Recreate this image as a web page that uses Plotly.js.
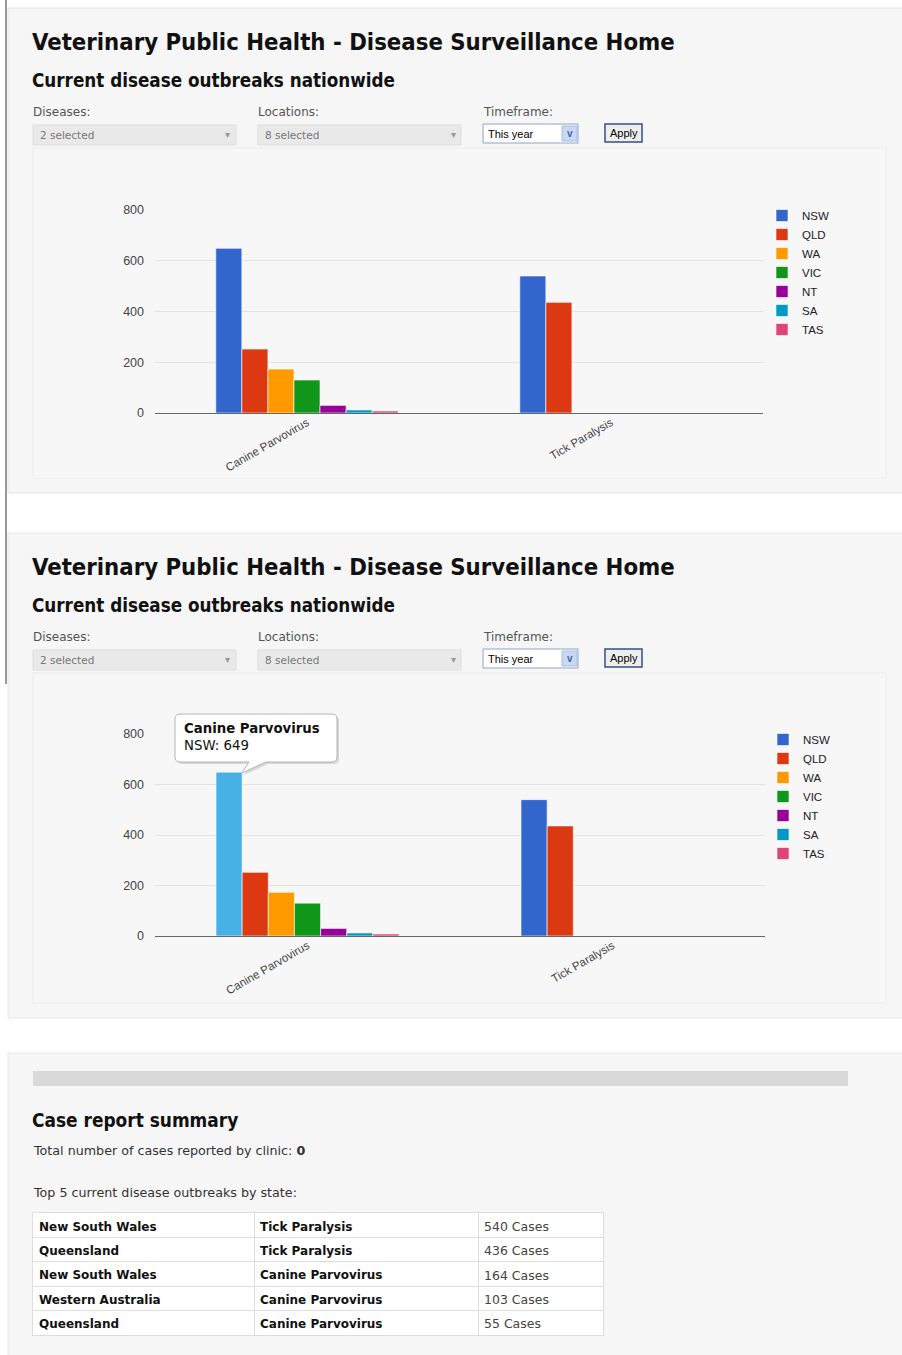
<!DOCTYPE html>
<html><head><meta charset="utf-8">
<script src="https://cdn.plot.ly/plotly-3.0.1.min.js"></script>
<style>html,body{margin:0;padding:0;background:#fff;overflow:hidden;} #chart{width:902px;height:1355px;}</style>
</head><body><div id="chart"></div>
<script>
// ---------- data ----------
const diseases = ['Canine Parvovirus', 'Tick Paralysis'];
const states = ['NSW', 'QLD', 'WA', 'VIC', 'NT', 'SA', 'TAS'];
const NSW = [649, 540];
const QLD = [252, 436];
const WA  = [173, null];
const VIC = [130, null];
const NT  = [30, null];
const SA  = [12, null];
const TAS = [8, null];
const seriesValues = [NSW, QLD, WA, VIC, NT, SA, TAS];
const seriesColors = ['#3366cc', '#dc3912', '#ff9900', '#109618', '#990099', '#0099c6', '#dd4477'];
const hoverColor = '#47b0e4';
const yTicks = [0, 200, 400, 600, 800];
const tableStates = ['New South Wales', 'Queensland', 'New South Wales', 'Western Australia', 'Queensland'];
const tableDiseases = ['Tick Paralysis', 'Tick Paralysis', 'Canine Parvovirus', 'Canine Parvovirus', 'Canine Parvovirus'];
const tableCases = [540, 436, 164, 103, 55];
const clinicTotal = 0;
const pageTitle = 'Veterinary Public Health - Disease Surveillance Home';
const subTitle = 'Current disease outbreaks nationwide';

// ---------- helpers ----------
const W = 902, H = 1355;
const X = v => v / W;
const Y = v => 1 - v / H;
const HEAD = '"DejaVu Sans Condensed", "DejaVu Sans", sans-serif';
const VERD = '"DejaVu Sans", Verdana, sans-serif';
const ARIAL = '"Liberation Sans", Arial, sans-serif';

const shapes = [];
const annotations = [];
function rect(x0, y0, x1, y1, fill, line, lw) {
  shapes.push({type: 'rect', xref: 'paper', yref: 'paper', x0: X(x0), x1: X(x1), y0: Y(y1), y1: Y(y0),
    fillcolor: fill, line: {color: line || 'rgba(0,0,0,0)', width: lw === undefined ? 1 : lw}, layer: 'below'});
}
function vline(x, y0, y1, color) {
  shapes.push({type: 'line', xref: 'paper', yref: 'paper', x0: X(x), x1: X(x), y0: Y(y0), y1: Y(y1),
    line: {color: color, width: 1}, layer: 'below'});
}
function txt(text, x, y, size, family, color, opts) {
  annotations.push(Object.assign({text: text, xref: 'paper', yref: 'paper', x: X(x), y: Y(y),
    xanchor: 'left', yanchor: 'middle', showarrow: false, borderpad: 0,
    font: {size: size, family: family, color: color}}, opts || {}));
}
function pathStr(pts) {
  return pts.map(p => {
    if (p[0] === 'Q') return 'Q' + X(p[1]) + ',' + Y(p[2]) + ' ' + X(p[3]) + ',' + Y(p[4]);
    if (p[0] === 'Z') return 'Z';
    return p[0] + X(p[1]) + ',' + Y(p[2]);
  }).join(' ');
}

// page left artifact line
vline(6, 0, 684, '#333');

// ---------- panels 1 & 2 ----------
function panel(dy) {
  rect(8, 8 + dy, 905, 493 + dy, '#f6f6f6', '#e6e6e6');
  txt('<b>' + pageTitle + '</b>', 31, 42 + dy, 23.7, HEAD, '#111');
  txt('<b>' + subTitle + '</b>', 31, 81 + dy, 18.7, HEAD, '#111');
  txt('Diseases:', 32, 112 + dy, 12, VERD, '#555');
  txt('Locations:', 257, 112 + dy, 12, VERD, '#555');
  txt('Timeframe:', 482, 112 + dy, 12, VERD, '#555');
  rect(33, 125 + dy, 236, 145 + dy, '#e9e9e9', '#dddddd');
  rect(258, 125 + dy, 461, 145 + dy, '#e9e9e9', '#dddddd');
  txt('2 selected', 39, 135 + dy, 10.5, VERD, '#777');
  txt('8 selected', 264, 135 + dy, 10.5, VERD, '#777');
  txt('▾', 228, 134 + dy, 10, VERD, '#999', {xanchor: 'center'});
  txt('▾', 453, 134 + dy, 10, VERD, '#999', {xanchor: 'center'});
  rect(483, 124 + dy, 578, 143 + dy, '#ffffff', '#8ea6c8');
  rect(562, 126 + dy, 577, 141 + dy, '#c8d7f2', '#a9bde3');
  txt('This year', 487, 134 + dy, 11, ARIAL, '#000');
  txt('<b>v</b>', 569.5, 133 + dy, 10, ARIAL, '#4a68a8', {xanchor: 'center'});
  rect(605, 124 + dy, 642, 142 + dy, '#eeeeee', '#34507e', 1.5);
  txt('Apply', 623.5, 133 + dy, 11, ARIAL, '#000', {xanchor: 'center'});
  rect(33, 148 + dy, 886, 478 + dy, '#f7f7f7', '#ececec');
}
panel(0);
panel(525);

// ---------- panel 3 ----------
rect(8, 1053, 905, 1360, '#f6f6f6', '#e6e6e6');
rect(33, 1071, 848, 1086, '#d9d9d9', null, 0);
txt('<b>Case report summary</b>', 31, 1120, 18.9, HEAD, '#111');
txt('Total number of cases reported by clinic: <b>' + clinicTotal + '</b>', 32, 1150, 12.7, VERD, '#333');
txt('Top 5 current disease outbreaks by state:', 32, 1192, 12.7, VERD, '#333');

// ---------- bar traces ----------
const traces = [];
states.forEach((s, i) => {
  traces.push({type: 'bar', name: s, x: diseases, y: seriesValues[i], xaxis: 'x', yaxis: 'y',
    legend: 'legend',
    marker: {color: seriesColors[i], line: {color: 'rgba(255,255,255,0.6)', width: 1}},
    hoverinfo: 'skip'});
});
states.forEach((s, i) => {
  // chart 2: the hovered bar (first category of NSW) is drawn in the highlight colour.
  // points are listed last-to-first so that the legend swatch keeps the series colour.
  const xs = diseases.slice().reverse();
  const ys = seriesValues[i].slice().reverse();
  const col = i === 0 ? xs.map(d => d === diseases[0] ? hoverColor : seriesColors[i]) : seriesColors[i];
  traces.push({type: 'bar', name: s, x: xs, y: ys, xaxis: 'x2', yaxis: 'y2',
    legend: 'legend2',
    marker: {color: col, line: {color: 'rgba(255,255,255,0.6)', width: 1}},
    hoverinfo: 'skip'});
});

// ---------- table (text cells on their own axes; grid lines are the cell borders) ----------
const colWidths = [221, 224, 125];
const colEdges = [0];
colWidths.forEach(w => colEdges.push(colEdges[colEdges.length - 1] + w));
const textNudge = 0.1; // baseline correction inside a row
const tX = [], tY = [], tT = [], tS = [], tC = [];
tableStates.forEach((st, r) => {
  const row = ['<b>' + st + '</b>', '<b>' + tableDiseases[r] + '</b>', tableCases[r] + ' Cases'];
  row.forEach((t, c) => {
    tX.push(colEdges[c] + 6);
    tY.push(r + 0.5 + textNudge);
    tT.push(t);
    tS.push(c < 2 ? 12 : 12.5);
    tC.push(c < 2 ? '#111' : '#444');
  });
});
traces.push({type: 'scatter', mode: 'text', x: tX, y: tY, text: tT, textposition: 'middle right',
  textfont: {family: VERD, size: tS, color: tC}, xaxis: 'x3', yaxis: 'y3', showlegend: false,
  hoverinfo: 'skip', cliponaxis: false});
shapes.push({type: 'rect', xref: 'x3', yref: 'y3', x0: 0, x1: colEdges[3], y0: 0, y1: tableStates.length,
  fillcolor: '#ffffff', line: {width: 0}, layer: 'below'});

// ---------- tooltip bubble (chart 2) ----------
const bx0 = 175, bx1 = 337, by0 = 714, by1 = 762, r = 5;
function bubble(o) {
  return pathStr([
    ['M', bx0 + r + o, by0 + o], ['L', bx1 - r + o, by0 + o], ['Q', bx1 + o, by0 + o, bx1 + o, by0 + r + o],
    ['L', bx1 + o, by1 - r + o], ['Q', bx1 + o, by1 + o, bx1 - r + o, by1 + o],
    ['L', 266 + o, by1 + o], ['L', 242 + o, 773 + o], ['L', 249 + o, by1 + o],
    ['L', bx0 + r + o, by1 + o], ['Q', bx0 + o, by1 + o, bx0 + o, by1 - r + o],
    ['L', bx0 + o, by0 + r + o], ['Q', bx0 + o, by0 + o, bx0 + r + o, by0 + o], ['Z']
  ]);
}
shapes.push({type: 'path', xref: 'paper', yref: 'paper', path: bubble(2), fillcolor: 'rgba(0,0,0,0.13)',
  line: {width: 0}, layer: 'above'});
shapes.push({type: 'path', xref: 'paper', yref: 'paper', path: bubble(0), fillcolor: '#ffffff',
  line: {color: '#b5b5b5', width: 1}, layer: 'above'});
txt('<b>' + diseases[0] + '</b><br>' + states[0] + ': ' + NSW[0], 183, 736.5, 13.3, VERD, '#111', {align: 'left'});

function yax(domain) {
  return {domain: domain, range: [0, 800], tickvals: yTicks, ticktext: yTicks.map(String),
    showgrid: true, gridcolor: '#e2e2e2', gridwidth: 1, zeroline: true, zerolinecolor: '#666', zerolinewidth: 1,
    showline: false, ticks: '', ticklabelstandoff: 10,
    tickfont: {family: ARIAL, size: 12.5, color: '#444'}, fixedrange: true};
}
function xax(domain, anchor) {
  return {domain: domain, anchor: anchor, type: 'category', categoryorder: 'array', categoryarray: diseases,
    range: [-0.5, 1.5], tickangle: -30,
    showgrid: false, showline: false, zeroline: false, ticks: '',
    tickfont: {family: ARIAL, size: 11.5, color: '#444'}, fixedrange: true};
}
function leg(x, y) {
  return {x: X(x), y: Y(y), xanchor: 'left', yanchor: 'top', bgcolor: 'rgba(0,0,0,0)', borderwidth: 0,
    font: {family: ARIAL, size: 11.5, color: '#222'}, tracegroupgap: 0, itemclick: false, itemdoubleclick: false};
}

const layout = {
  width: W, height: H,
  margin: {l: 0, r: 0, t: 0, b: 0},
  paper_bgcolor: '#ffffff', plot_bgcolor: 'rgba(0,0,0,0)',
  barmode: 'group', bargap: 0.4, bargroupgap: 0,
  showlegend: true,
  xaxis: xax([X(155), X(763)], 'y'),
  yaxis: yax([Y(413), Y(210)]),
  xaxis2: xax([X(155), X(765)], 'y2'),
  yaxis2: yax([Y(936), Y(734)]),
  xaxis3: {domain: [X(33), X(603)], anchor: 'y3', range: [0, colEdges[3]], tickvals: colEdges,
    showticklabels: false, ticks: '', showgrid: true, gridcolor: '#dddddd', gridwidth: 1, zeroline: false,
    showline: true, linecolor: '#dddddd', linewidth: 1, mirror: true, fixedrange: true},
  yaxis3: {domain: [Y(1335), Y(1213)], anchor: 'x3', range: [tableStates.length, 0],
    tickvals: tableStates.map((s, k) => k).concat([tableStates.length]),
    showticklabels: false, ticks: '', showgrid: true, gridcolor: '#dddddd', gridwidth: 1, zeroline: false,
    showline: true, linecolor: '#dddddd', linewidth: 1, mirror: true, fixedrange: true},
  legend: leg(762, 201),
  legend2: leg(763, 725),
  shapes: shapes,
  annotations: annotations,
  hovermode: false
};

Plotly.newPlot('chart', traces, layout, {displayModeBar: false, staticPlot: true});
</script>
</body></html>
